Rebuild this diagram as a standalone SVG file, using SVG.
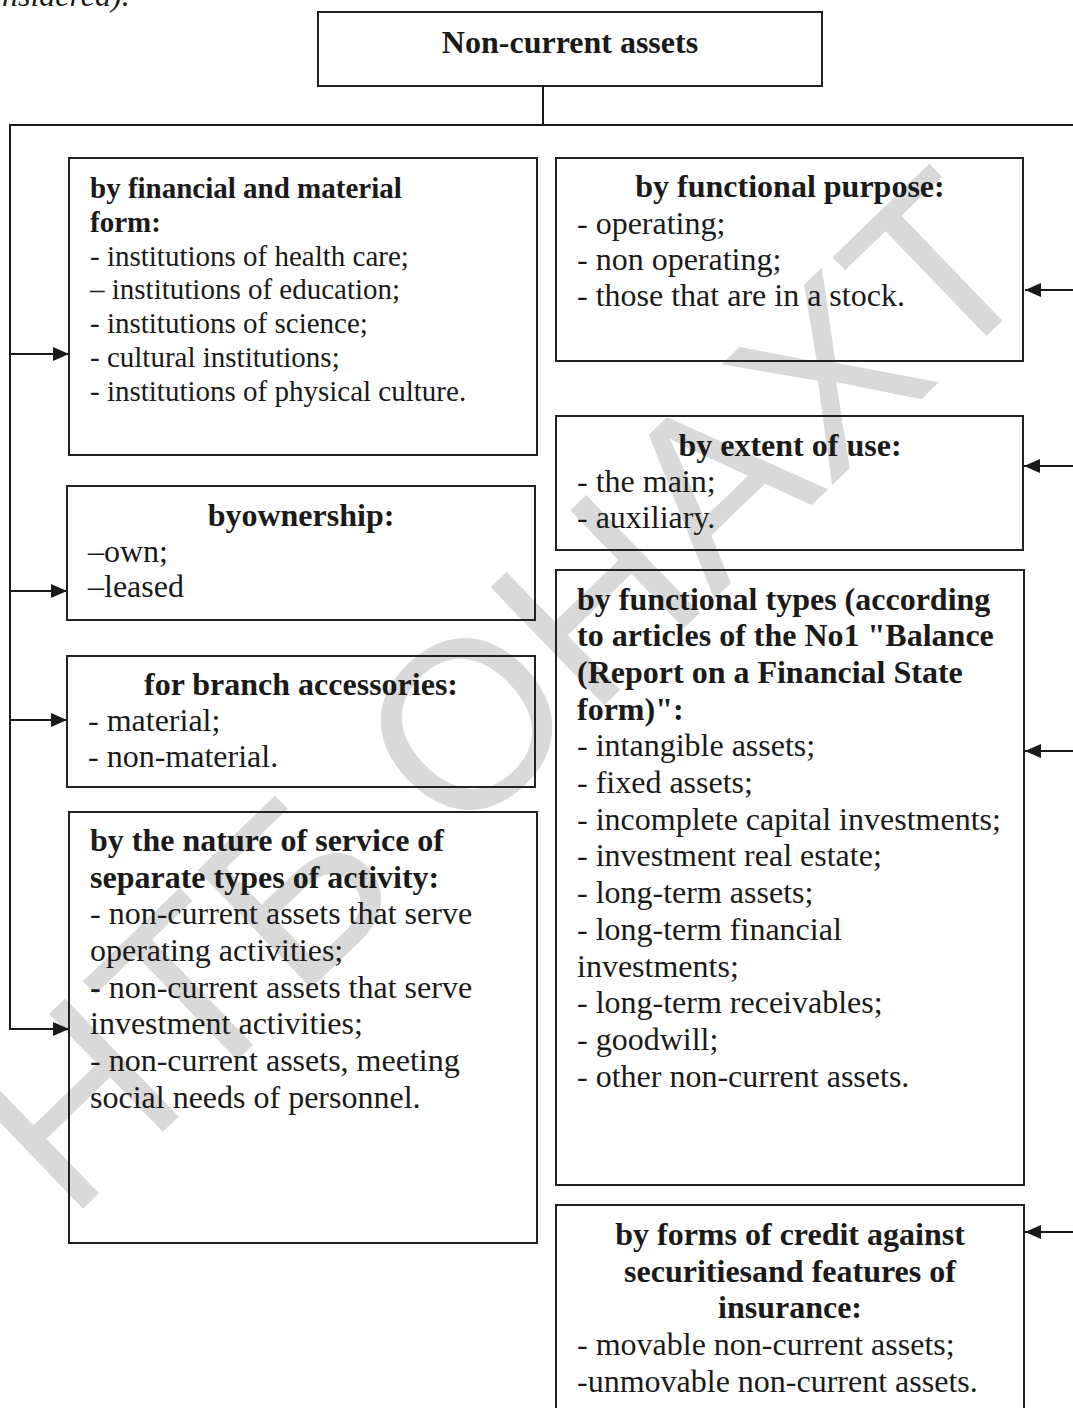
<svg xmlns="http://www.w3.org/2000/svg" width="1073" height="1408" viewBox="0 0 1073 1408">
<defs>
<style>
.box{fill:none;stroke:#222;stroke-width:2}
.t{font-family:"Liberation Serif","Times New Roman",serif;font-size:32px;fill:#1a1a1a}
.s{font-size:29px}
.b{font-weight:bold}
.c{text-anchor:middle}
.ln{fill:none;stroke:#1a1a1a;stroke-width:2}
.wm{font-family:"Liberation Sans",Arial,sans-serif;font-size:238px;fill:#d9d9d9;text-anchor:middle}
</style>
<marker id="ah" markerUnits="userSpaceOnUse" markerWidth="18" markerHeight="14" refX="16" refY="7" orient="auto">
<path d="M0,0 L16,7 L0,14 Z" fill="#1a1a1a"/>
</marker>
</defs>
<rect width="1073" height="1408" fill="#fff"/>
<text class="t" x="2" y="6" font-style="italic" font-size="34">nsidered).</text>
<text class="wm" x="558" y="750" transform="rotate(-44 558 750)">НТБ ОНАХТ</text>

<g id="connectors">
<line class="ln" x1="543" y1="86" x2="543" y2="125" stroke-width="1.5"/>
<line class="ln" x1="10" y1="125" x2="1073" y2="125"/>
<line class="ln" x1="10" y1="124" x2="10" y2="1030"/>
<line class="ln" x1="10" y1="354" x2="69" y2="354" marker-end="url(#ah)"/>
<line class="ln" x1="10" y1="591" x2="67" y2="591" marker-end="url(#ah)"/>
<line class="ln" x1="10" y1="720" x2="67" y2="720" marker-end="url(#ah)"/>
<line class="ln" x1="9" y1="1029" x2="69" y2="1029" marker-end="url(#ah)"/>
<line class="ln" x1="1073" y1="290" x2="1025" y2="290" marker-end="url(#ah)"/>
<line class="ln" x1="1073" y1="466" x2="1024" y2="466" marker-end="url(#ah)"/>
<line class="ln" x1="1073" y1="751" x2="1025" y2="751" marker-end="url(#ah)"/>
<line class="ln" x1="1073" y1="1232" x2="1025" y2="1232" marker-end="url(#ah)"/>
</g>

<g id="root">
<rect class="box" x="318" y="12" width="504" height="74"/>
<text class="t b c" x="570" y="53">Non-current assets</text>
</g>

<g id="financial-form">
<rect class="box" x="69" y="158" width="468" height="297"/>
<text class="t s b" x="90" y="198">by financial and material</text>
<text class="t s b" x="90" y="232">form:</text>
<text class="t s" x="90" y="266">- institutions of health care;</text>
<text class="t s" x="90" y="299">– institutions of education;</text>
<text class="t s" x="90" y="333">- institutions of science;</text>
<text class="t s" x="90" y="367">- cultural institutions;</text>
<text class="t s" x="90" y="401">- institutions of physical culture.</text>
</g>

<g id="ownership">
<rect class="box" x="67" y="486" width="468" height="134"/>
<text class="t b c" x="301" y="526">byownership:</text>
<text class="t" x="88" y="562">–own;</text>
<text class="t" x="88" y="597">–leased</text>
</g>

<g id="branch">
<rect class="box" x="67" y="656" width="468" height="131"/>
<text class="t b c" x="301" y="695">for branch accessories:</text>
<text class="t" x="88" y="731">- material;</text>
<text class="t" x="88" y="767">- non-material.</text>
</g>

<g id="nature-of-service">
<rect class="box" x="69" y="812" width="468" height="431"/>
<text class="t b" x="90" y="851">by the nature of service of</text>
<text class="t b" x="90" y="888">separate types of activity:</text>
<text class="t" x="90" y="924">- non-current assets that serve</text>
<text class="t" x="90" y="961">operating activities;</text>
<text class="t" x="90" y="998"><tspan font-weight="bold">-</tspan> non-current assets that serve</text>
<text class="t" x="90" y="1034">investment activities;</text>
<text class="t" x="90" y="1071">- non-current assets, meeting</text>
<text class="t" x="90" y="1108">social needs of personnel.</text>
</g>

<g id="functional-purpose">
<rect class="box" x="556" y="158" width="467" height="203"/>
<text class="t b c" x="790" y="197">by functional purpose:</text>
<text class="t" x="577" y="234">- operating;</text>
<text class="t" x="577" y="270">- non operating;</text>
<text class="t" x="577" y="306">- those that are in a stock.</text>
</g>

<g id="extent-of-use">
<rect class="box" x="556" y="416" width="467" height="134"/>
<text class="t b c" x="790" y="456">by extent of use:</text>
<text class="t" x="577" y="492">- the main;</text>
<text class="t" x="577" y="528">- auxiliary.</text>
</g>

<g id="functional-types">
<rect class="box" x="556" y="570" width="468" height="615"/>
<text class="t b" x="577" y="610">by functional types (according</text>
<text class="t b" x="577" y="646">to articles of the No1 "Balance</text>
<text class="t b" x="577" y="683">(Report on a Financial State</text>
<text class="t b" x="577" y="720">form)":</text>
<text class="t" x="577" y="756">- intangible assets;</text>
<text class="t" x="577" y="793">- fixed assets;</text>
<text class="t" x="577" y="830">- incomplete capital investments;</text>
<text class="t" x="577" y="866">- investment real estate;</text>
<text class="t" x="577" y="903">- long-term assets;</text>
<text class="t" x="577" y="940">- long-term financial</text>
<text class="t" x="577" y="977">investments;</text>
<text class="t" x="577" y="1013">- long-term receivables;</text>
<text class="t" x="577" y="1050">- goodwill;</text>
<text class="t" x="577" y="1087">- other non-current assets.</text>
</g>

<g id="credit-insurance">
<rect class="box" x="556" y="1205" width="468" height="230"/>
<text class="t b c" x="790" y="1245">by forms of credit against</text>
<text class="t b c" x="790" y="1282">securitiesand features of</text>
<text class="t b c" x="790" y="1318">insurance:</text>
<text class="t" x="577" y="1355">- movable non-current assets;</text>
<text class="t" x="577" y="1392">-unmovable non-current assets.</text>
</g>
</svg>
